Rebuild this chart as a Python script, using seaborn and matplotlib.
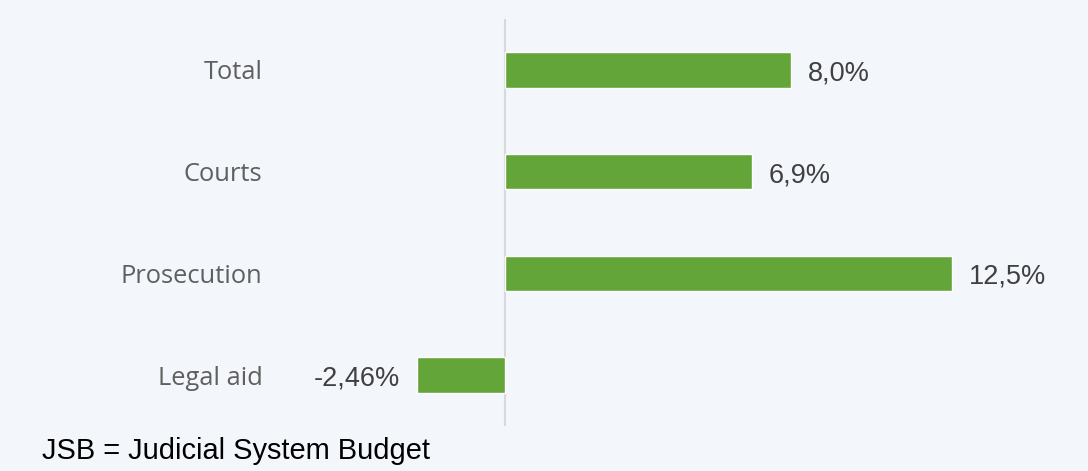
import matplotlib
matplotlib.use("Agg")
import matplotlib.pyplot as plt
import seaborn as sns
import pandas as pd

categories = ["Total", "Courts", "Prosecution", "Legal aid"]
values = [8.0, 6.9, 12.5, -2.46]
value_labels = ["8,0%", "6,9%", "12,5%", "-2,46%"]
footer = "JSB = Judicial System Budget"

BG = "#f3f6fb"
GREEN = "#63a538"

sns.set_theme(style="white")
plt.rcParams["font.family"] = ["Liberation Sans", "DejaVu Sans"]

W, H = 1088, 471
fig = plt.figure(figsize=(W / 100, H / 100), dpi=100, facecolor=BG)
ax_l, ax_r, ax_t, ax_b = 300, 1080, 19, 426
ax = fig.add_axes([ax_l / W, 1 - ax_b / H, (ax_r - ax_l) / W, (ax_b - ax_t) / H])
ax.set_facecolor(BG)

df = pd.DataFrame({"cat": categories, "val": values})
sns.barplot(data=df, y="cat", x="val", orient="h", color=GREEN, width=0.35,
            saturation=1, ax=ax, order=categories)

px_per_unit = 35.75
zero_px = 505
ax.set_xlim(-(zero_px - ax_l) / px_per_unit, (ax_r - zero_px) / px_per_unit)
ax.set_ylim(3.5, -0.5)
ax.axvline(0, color="#d9d9d9", lw=1.5, zorder=0)

for s in ax.spines.values():
    s.set_visible(False)
ax.set_xticks([])
ax.set_xlabel("")
ax.set_ylabel("")
ax.tick_params(axis="y", length=0, pad=27)
for lbl in ax.get_yticklabels():
    lbl.set_fontfamily(["Open Sans", "DejaVu Sans"])
    lbl.set_fontsize(18.4)
    lbl.set_color("#5f5f5f")

for i, (v, t) in enumerate(zip(values, value_labels)):
    off = 12.5 if v >= 0 else -12.5
    ax.annotate(t, xy=(v, i), xytext=(off, -2.5), textcoords="offset points",
                ha="left" if v >= 0 else "right", va="center",
                fontsize=19.5, color="#404040")

fig.text(42 / W, 1 - 451 / H, footer, ha="left", va="center",
         fontsize=20.9, color="black")

fig.savefig("out.png", dpi=100, facecolor=BG)
